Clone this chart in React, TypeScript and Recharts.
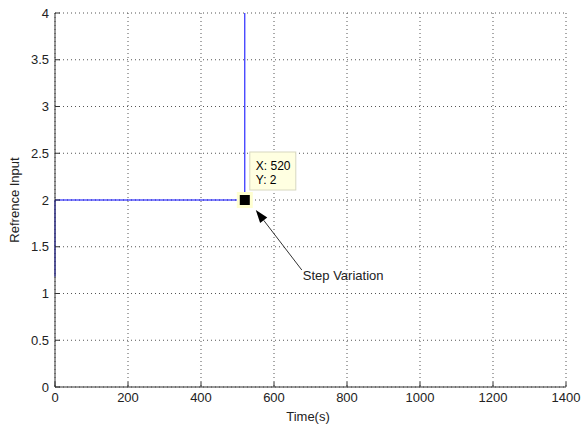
import React from 'react';
import { LineChart, Line, XAxis, YAxis, CartesianGrid, ReferenceDot } from 'recharts';

const timeTicks = [0, 200, 400, 600, 800, 1000, 1200, 1400];
const inputTicks = [0, 0.5, 1, 1.5, 2, 2.5, 3, 3.5, 4];

// step signal: sampled corners of the reference trace
const times = [0, 0, 520, 520];
const refInput = [1.18, 2, 2, 4];

const tipX = 520;
const tipY = 2;

const data = times.map((t, i) => ({ t, v: refInput[i] }));

const FONT = '"Liberation Sans", Arial, sans-serif';
const AXIS = '#333';

const DataTip = (props: any) => {
  const { cx, cy } = props;
  // arrow from the label up to the data tip
  const tx = cx + 57;
  const ty = cy + 70;
  const hx = cx + 11;
  const hy = cy + 10;
  const dx = hx - tx;
  const dy = hy - ty;
  const len = Math.sqrt(dx * dx + dy * dy);
  const ux = dx / len;
  const uy = dy / len;
  const bx = hx - ux * 13;
  const by = hy - uy * 13;
  const px = -uy * 4.5;
  const py = ux * 4.5;
  return (
    <g>
      <rect x={cx + 5} y={cy - 48} width={46} height={38} fill="#ffffe1" stroke="#d8d8c0" />
      <text x={cx + 11} y={cy - 33} fontSize={12} fontFamily={FONT} fill="#000" dominantBaseline="middle">
        X: {tipX}
      </text>
      <text x={cx + 11} y={cy - 19} fontSize={12} fontFamily={FONT} fill="#000" dominantBaseline="middle">
        Y: {tipY}
      </text>
      <rect x={cx - 8} y={cy - 8} width={16} height={16} fill="#ffffd0" />
      <rect x={cx - 5} y={cy - 5} width={10} height={10} fill="#000" />
      <line x1={tx} y1={ty} x2={bx} y2={by} stroke="#333" strokeWidth={1} />
      <polygon points={`${hx},${hy} ${bx + px},${by + py} ${bx - px},${by - py}`} fill="#000" />
      <text x={tx + 1} y={ty + 7} fontSize={13} fontFamily={FONT} fill="#222" dominantBaseline="middle">
        Step Variation
      </text>
    </g>
  );
};

const noTick = () => <g />;

export default function App() {
  return (
    <div style={{ position: 'absolute', left: 0, top: 0, width: 583, height: 429, background: '#fff' }}>
      <LineChart width={583} height={429} data={data} margin={{ top: 13, right: 17, bottom: 0, left: 0 }}>
        <CartesianGrid stroke="#555" strokeDasharray="1 3" />
        <XAxis
          dataKey="t"
          type="number"
          domain={[0, 1400]}
          ticks={timeTicks}
          height={42}
          stroke={AXIS}
          tickSize={-5}
          tickMargin={11}
          tick={{ fontSize: 13, fontFamily: FONT, fill: '#222' }}
          label={{
            content: () => (
              <text x={308} y={418} textAnchor="middle" dominantBaseline="middle" fontSize={13} fontFamily={FONT} fill="#222">
                Time(s)
              </text>
            ),
          }}
        />
        <XAxis
          xAxisId="top"
          orientation="top"
          type="number"
          domain={[0, 1400]}
          ticks={timeTicks}
          height={0}
          stroke={AXIS}
          tickSize={-5}
          tick={noTick}
        />
        <YAxis
          type="number"
          domain={[0, 4]}
          ticks={inputTicks}
          width={55}
          stroke={AXIS}
          tickSize={-5}
          tickMargin={11}
          tick={{ fontSize: 13, fontFamily: FONT, fill: '#222' }}
          label={{
            content: () => (
              <text
                x={16}
                y={200}
                textAnchor="middle"
                dominantBaseline="middle"
                fontSize={13}
                fontFamily={FONT}
                fill="#222"
                transform="rotate(-90 16 200)"
              >
                Refrence Input
              </text>
            ),
          }}
        />
        <YAxis
          yAxisId="right"
          orientation="right"
          type="number"
          domain={[0, 4]}
          ticks={inputTicks}
          width={0}
          stroke={AXIS}
          tickSize={-5}
          tick={noTick}
        />
        <Line type="linear" dataKey="v" stroke="#0000ff" strokeWidth={1} dot={false} isAnimationActive={false} />
        <ReferenceDot x={tipX} y={tipY} r={5} shape={DataTip} />
      </LineChart>
    </div>
  );
}
